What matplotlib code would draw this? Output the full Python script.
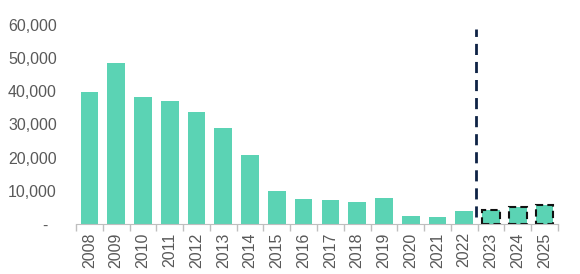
import numpy as np
import matplotlib.pyplot as plt
from matplotlib.ticker import FixedLocator

plt.rcParams['font.family'] = ['Liberation Sans', 'DejaVu Sans']

years = [str(y) for y in range(2008, 2026)]
values = [39700, 48600, 38300, 37100, 33700, 28800, 20700, 10000, 7500,
          7300, 6600, 7700, 2400, 2100, 3800, 4300, 5100, 5700]
n_actual = 15  # 2008-2022 actual, rest forecast
ytick_vals = [0, 10000, 20000, 30000, 40000, 50000, 60000]
ytick_labels = ['-  ', '10,000', '20,000', '30,000', '40,000', '50,000', '60,000']

bar_color = '#5bd3b4'
text_color = '#595959'

fig = plt.figure(figsize=(5.8, 2.74), dpi=100)
ax = fig.add_axes([0.131, 0.1825, 0.831, 0.7263])

x = np.arange(len(years))
ax.bar(x[:n_actual], values[:n_actual], width=0.66, color=bar_color)
ax.bar(x[n_actual:], values[n_actual:], width=0.66, color=bar_color,
       edgecolor='#111111', linestyle=(0, (3.5, 2)), linewidth=1.5)

# forecast divider
ax.plot([14.43, 14.43], [2100, 58800], color='#0e2345', linewidth=2,
        linestyle=(0, (4, 2.5)))

ax.set_xlim(-0.5, len(years) - 0.5)
ax.set_ylim(0, 60000)

ax.set_xticks(x)
ax.set_xticklabels(years, rotation=90, fontsize=11.5, color=text_color)
ax.xaxis.set_minor_locator(FixedLocator(np.arange(-0.5, len(years), 1.0)))
ax.tick_params(axis='x', which='major', length=0, pad=6)
ax.tick_params(axis='x', which='minor', length=5, color='#bfbfbf', width=1)

ax.set_yticks(ytick_vals)
ax.set_yticklabels(ytick_labels, fontsize=11.5, color=text_color)
ax.tick_params(axis='y', length=0, pad=13.7)

for side in ['top', 'right', 'left']:
    ax.spines[side].set_visible(False)
ax.spines['bottom'].set_color('#bfbfbf')

fig.savefig('out.png', dpi=100)
